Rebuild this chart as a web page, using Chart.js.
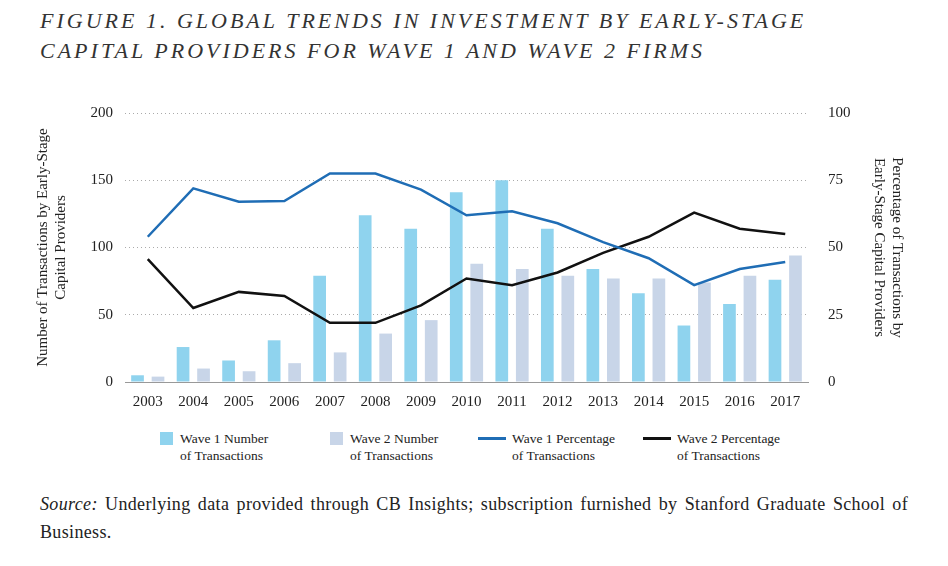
<!DOCTYPE html>
<html>
<head>
<meta charset="utf-8">
<script src="https://cdn.jsdelivr.net/npm/chart.js@4"></script>
<style>
  body { margin: 0; background: #fff; width: 948px; height: 566px; position: relative; overflow: hidden; font-family: "Liberation Serif", serif; }
  #title { position: absolute; left: 40px; top: 6px; font-style: italic; font-size: 22px; letter-spacing: 3px; line-height: 30px; color: #333; }
  #wrap { position: absolute; left: 30px; top: 92px; width: 880px; height: 330px; }
  .leg { position: absolute; top: 430px; font-size: 13.5px; line-height: 17px; color: #222; }
  .sw { position: absolute; top: 2px; width: 13px; height: 13px; }
  .ln { position: absolute; top: 7px; width: 28px; height: 3px; }
  #source { position: absolute; left: 40px; top: 490px; width: 868px; font-size: 18px; letter-spacing: 0.35px; line-height: 28px; color: #222; text-align: justify; text-align-last: left; }
</style>
</head>
<body>
<div id="title">FIGURE 1. GLOBAL TRENDS IN INVESTMENT BY EARLY-STAGE<br>CAPITAL PROVIDERS FOR WAVE 1 AND WAVE 2 FIRMS</div>
<div id="wrap"><canvas id="chart"></canvas></div>
<div class="leg" style="left:160px"><span class="sw" style="left:0;background:#8fd3ee"></span><div style="margin-left:20px">Wave 1 Number<br>of Transactions</div></div>
<div class="leg" style="left:330px"><span class="sw" style="left:0;background:#c8d5e8"></span><div style="margin-left:20px">Wave 2 Number<br>of Transactions</div></div>
<div class="leg" style="left:478px"><span class="ln" style="left:0;background:#1f6db5"></span><div style="margin-left:34px">Wave 1 Percentage<br>of Transactions</div></div>
<div class="leg" style="left:643px"><span class="ln" style="left:0;background:#111"></span><div style="margin-left:34px">Wave 2 Percentage<br>of Transactions</div></div>
<div id="source"><i>Source:</i> Underlying data provided through CB Insights; subscription furnished by Stanford Graduate School of Business.</div>
<script>
const years = ["2003","2004","2005","2006","2007","2008","2009","2010","2011","2012","2013","2014","2015","2016","2017"];
const wave1Count = [5, 26, 16, 31, 79, 124, 114, 141, 150, 114, 84, 66, 42, 58, 76];
const wave2Count = [4, 10, 8, 14, 22, 36, 46, 88, 84, 79, 77, 77, 74, 79, 94];
const wave1Pct = [54, 72, 67, 67.3, 77.5, 77.5, 71.5, 62, 63.5, 59, 52, 46, 36, 42, 44.6];
const wave2Pct = [45.7, 27.5, 33.5, 32, 22, 22, 28.5, 38.5, 36, 40.7, 48, 54, 63, 57, 55];
const leftTicks = [0, 50, 100, 150, 200];
const rightTicks = [0, 25, 50, 75, 100];

const tickFont = { family: "Liberation Serif", size: 15 };
const titleFont = { family: "Liberation Serif", size: 15 };

new Chart(document.getElementById("chart"), {
  type: "bar",
  data: {
    labels: years,
    datasets: [
      { type: "line", data: wave1Pct, yAxisID: "y2", borderColor: "#1f6db5", borderWidth: 2.5, pointRadius: 0, tension: 0, order: 0 },
      { type: "line", data: wave2Pct, yAxisID: "y2", borderColor: "#111", borderWidth: 2.5, pointRadius: 0, tension: 0, order: 0 },
      { data: wave1Count, yAxisID: "y", backgroundColor: "#8fd3ee", barPercentage: 0.62, categoryPercentage: 0.9, order: 1 },
      { data: wave2Count, yAxisID: "y", backgroundColor: "#c8d5e8", barPercentage: 0.62, categoryPercentage: 0.9, order: 1 },
    ],
  },
  options: {
    responsive: true,
    maintainAspectRatio: false,
    devicePixelRatio: 1,
    animation: false,
    layout: { padding: { top: 0 } },
    plugins: { legend: { display: false }, tooltip: { enabled: false } },
    scales: {
      x: {
        grid: { display: false },
        border: { color: "#999" },
        ticks: { color: "#222", font: tickFont, maxRotation: 0 },
        afterFit: (s) => { s.height = 40; },
      },
      y: {
        position: "left",
        min: 0, max: 200,
        afterBuildTicks: (s) => { s.ticks = leftTicks.map((v) => ({ value: v })); },
        grid: { color: "#aaa", drawTicks: false },
        border: { display: false, dash: [1, 3] },
        ticks: { color: "#222", font: tickFont, padding: 12 },
        title: { display: true, text: ["Number of Transactions by Early-Stage", "Capital Providers"], color: "#222", font: titleFont },
        afterFit: (s) => { s.width = 95; },
      },
      y2: {
        position: "right",
        min: 0, max: 100,
        afterBuildTicks: (s) => { s.ticks = rightTicks.map((v) => ({ value: v })); },
        grid: { display: false },
        border: { display: false },
        ticks: { color: "#222", font: tickFont, padding: 12 },
        title: { display: true, text: ["Percentage of Transactions by", "Early-Stage Capital Providers"], color: "#222", font: titleFont },
        afterFit: (s) => { s.width = 102; },
      },
    },
  },
});
</script>
</body>
</html>
